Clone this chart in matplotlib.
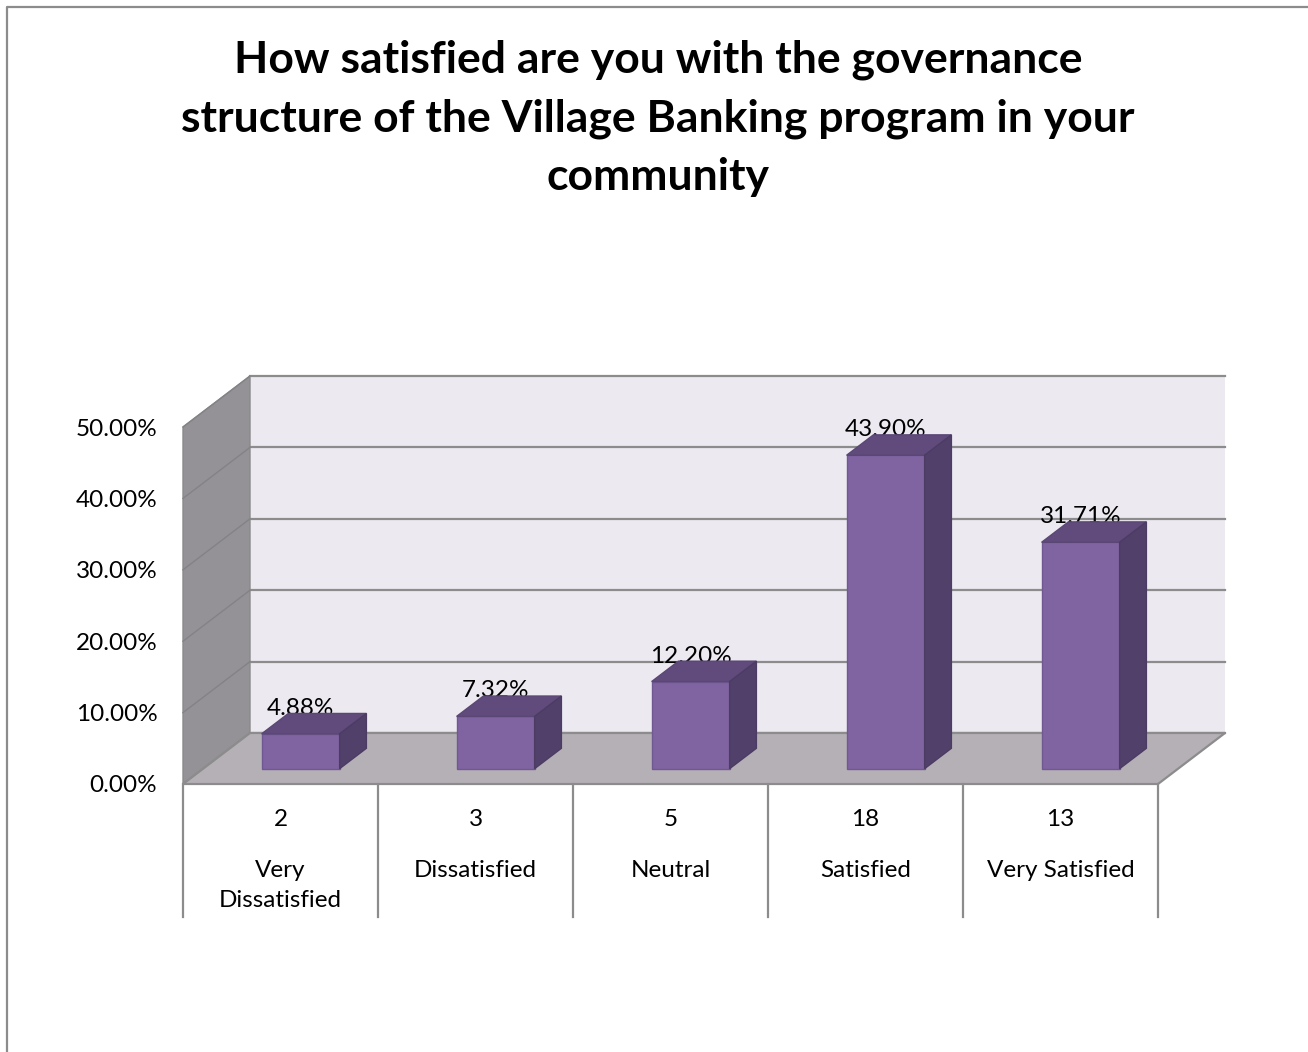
import numpy as np
import matplotlib
matplotlib.use('Agg')
from matplotlib import pyplot as plt
from matplotlib.patches import Polygon
from matplotlib.lines import Line2D
from matplotlib.ticker import PercentFormatter
from matplotlib.transforms import IdentityTransform

########## survey answers ##########
categories = ['Very\nDissatisfied', 'Dissatisfied', 'Neutral', 'Satisfied', 'Very Satisfied']
counts = [2, 3, 5, 18, 13]
percent = [4.88, 7.32, 12.20, 43.90, 31.71]
y_ticks = [0, 10, 20, 30, 40, 50]

title = ('How satisfied are you with the governance\n'
         'structure of the Village Banking program in your\n'
         'community')

plt.rcParams['font.family'] = ['Lato', 'DejaVu Sans']
FS = 17.5

W, H = 1308, 1052
fig = plt.figure(figsize=(W / 100, H / 100), dpi=100)

# front plane of the 3d box
ax = fig.add_axes([183 / W, (H - 784) / H, 975 / W, 357 / H])
n = len(categories)
ymax = y_ticks[-1] / 100
ax.set_xlim(0, n)
ax.set_ylim(0, ymax)
ax.patch.set_visible(False)
for s in ax.spines.values():
    s.set_visible(False)
ax.set_xticks([])
ax.set_yticks(np.array(y_ticks) / 100)
ax.yaxis.set_major_formatter(PercentFormatter(1, decimals=2))
ax.tick_params(axis='y', length=0, pad=18.5, labelsize=FS, labelcolor='black')

# how far the back wall sits behind the front plane (pixels right, up)
DEPTH = np.array([0.67, 0.51]) * fig.dpi


def proj(x, y, d):
    return ax.transData.transform((x, y)) + d * DEPTH


def face(pts, **kw):
    poly = Polygon([proj(*p) for p in pts], closed=True,
                   transform=IdentityTransform(), clip_on=False, **kw)
    ax.add_patch(poly)


def seg(p0, p1, **kw):
    a, b = proj(*p0), proj(*p1)
    ln = Line2D([a[0], b[0]], [a[1], b[1]], transform=IdentityTransform(),
                clip_on=False, **kw)
    ax.add_line(ln)


# walls and floor
face([(0, 0, 1), (n, 0, 1), (n, ymax, 1), (0, ymax, 1)], fc='#ECE9F1', ec='none', zorder=1)
face([(0, 0, 0), (0, ymax, 0), (0, ymax, 1), (0, 0, 1)], fc='#949297', ec='#8A8A8A', lw=1, zorder=1)
for t in y_ticks:
    v = t / 100
    seg((0, v, 1), (n, v, 1), color='#8C8C8C', lw=1.6, zorder=1.5)
    seg((0, v, 0), (0, v, 1), color='#838286', lw=1.0, zorder=1.5)
face([(0, 0, 0), (n, 0, 0), (n, 0, 1), (0, 0, 1)], fc='#B5B0B6', ec='#8C8C8C', lw=1.6, zorder=2)

# data labels sit behind the bar tops
for i, p in enumerate(percent):
    ax.annotate(f'{p:.2f}%', xy=(i + 0.5, p / 100),
                xytext=(0.3 * DEPTH[0] * 0.72, (0.3 * DEPTH[1] + 19) * 0.72),
                textcoords='offset points', ha='center', va='baseline',
                fontsize=FS, zorder=3, annotation_clip=False)

# 3d columns
d0, d1 = 0.3, 0.7
for i, p in enumerate(percent):
    v = p / 100
    x0, x1 = i + 0.3, i + 0.7
    face([(x0, 0, d0), (x1, 0, d0), (x1, v, d0), (x0, v, d0)],
         fc='#8064A2', ec='#705892', lw=1, zorder=4)
    face([(x0, v, d0), (x1, v, d0), (x1, v, d1), (x0, v, d1)],
         fc='#604B7C', ec='#5A4775', lw=1, zorder=4)
    face([(x1, 0, d0), (x1, v, d0), (x1, v, d1), (x1, 0, d1)],
         fc='#51406A', ec='#4C3C64', lw=1, zorder=4)

# category table under the floor
for k in range(n + 1):
    a = proj(k, 0, 0)
    ax.add_line(Line2D([a[0], a[0]], [a[1], a[1] - 133], transform=IdentityTransform(),
                       clip_on=False, color='#8C8C8C', lw=1.6, zorder=2))
for i, (c, lab) in enumerate(zip(counts, categories)):
    ax.annotate(str(c), xy=(i + 0.5, 0), xytext=(0, -25 * 0.72), textcoords='offset points',
                ha='center', va='top', fontsize=FS, annotation_clip=False)
    ax.annotate(lab, xy=(i + 0.5, 0), xytext=(0, -76 * 0.72), textcoords='offset points',
                ha='center', va='top', fontsize=FS, linespacing=1.55,
                annotation_clip=False)

# title
fig.text(658 / W, 1 - 40 / H, title, ha='center', va='top', fontsize=32,
         fontweight='bold', linespacing=1.55)

# chart area border (top and left edges)
fig.add_artist(Line2D([7, 7, W], [0, H - 7, H - 7], transform=IdentityTransform(),
                      color='#8C8C8C', lw=1.6))

fig.savefig('out.png', dpi=100)
